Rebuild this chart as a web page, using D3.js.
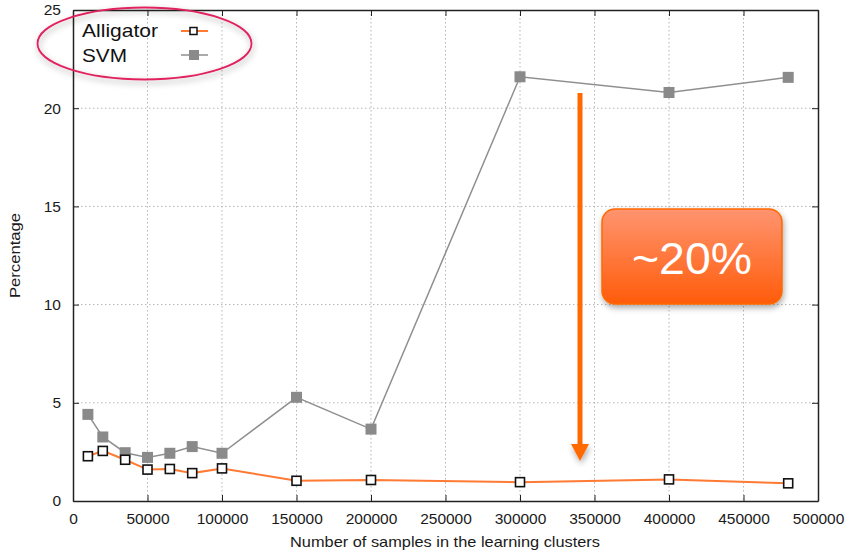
<!DOCTYPE html>
<html>
<head>
<meta charset="utf-8">
<script src="https://cdn.jsdelivr.net/npm/d3@7"></script>
<style>
  body { margin: 0; background: #fff; }
  svg { font-family: "Liberation Sans", Arial, sans-serif; }
</style>
</head>
<body>
<svg class="chart"></svg>
<script>
var samples = [10000, 20000, 35000, 50000, 65000, 80000, 100000, 150000, 200000, 300000, 400000, 480000];
var alligator = [2.28, 2.55, 2.1, 1.6, 1.63, 1.42, 1.66, 1.03, 1.07, 0.96, 1.1, 0.9];
var svm = [4.41, 3.26, 2.46, 2.22, 2.43, 2.77, 2.43, 5.28, 3.66, 21.6, 20.8, 21.57];
var xTicks = [0, 50000, 100000, 150000, 200000, 250000, 300000, 350000, 400000, 450000, 500000];
var yTicks = [0, 5, 10, 15, 20, 25];

let W = 848, H = 552;
let pL = 73, pR = 818, pT = 10, pB = 501;

var svg = d3.select(".chart").attr("width", W).attr("height", H);

var xS = d3.scaleLinear().domain([0, 500000]).range([pL, pR]);
var yS = d3.scaleLinear().domain([0, 25]).range([pB, pT]);

var defs = svg.append("defs");
var grad = defs.append("linearGradient").attr("id", "boxg")
  .attr("x1", 0).attr("y1", 0).attr("x2", 0).attr("y2", 1);
grad.append("stop").attr("offset", "0%").attr("stop-color", "#ff9470");
grad.append("stop").attr("offset", "100%").attr("stop-color", "#ff5c0a");
var sh = defs.append("filter").attr("id", "shadow").attr("x", "-20%").attr("y", "-20%").attr("width", "150%").attr("height", "150%");
sh.append("feDropShadow").attr("dx", 1).attr("dy", 3).attr("stdDeviation", 3).attr("flood-color", "#000").attr("flood-opacity", 0.35);

// grid
svg.append("g")
   .selectAll("line")
   .data(xTicks.slice(1, -1))
   .enter().append("line")
   .attr("x1", d => xS(d)).attr("x2", d => xS(d))
   .attr("y1", pT).attr("y2", pB)
   .attr("stroke", "#b5b5b5").attr("stroke-dasharray", "1.5,2.5");

svg.append("g")
   .selectAll("line")
   .data(yTicks.slice(1, -1))
   .enter().append("line")
   .attr("x1", pL).attr("x2", pR)
   .attr("y1", d => yS(d)).attr("y2", d => yS(d))
   .attr("stroke", "#b5b5b5").attr("stroke-dasharray", "1.5,2.5");

// axes (gnuplot style: inward ticks on all sides)
var tickFmt = d => String(d);
svg.append("g")
   .attr("transform", "translate(0," + pB + ")")
   .call(d3.axisBottom(xS).tickValues(xTicks).tickFormat(tickFmt).tickSizeInner(-6).tickSizeOuter(0).tickPadding(12));
svg.append("g")
   .attr("transform", "translate(0," + pT + ")")
   .call(d3.axisTop(xS).tickValues(xTicks).tickFormat("").tickSizeInner(-6).tickSizeOuter(0));
svg.append("g")
   .attr("transform", "translate(" + pL + ",0)")
   .call(d3.axisLeft(yS).tickValues(yTicks).tickFormat(tickFmt).tickSizeInner(-6).tickSizeOuter(0).tickPadding(12));
svg.append("g")
   .attr("transform", "translate(" + pR + ",0)")
   .call(d3.axisRight(yS).tickValues(yTicks).tickFormat("").tickSizeInner(-6).tickSizeOuter(0));

svg.selectAll(".domain").attr("stroke", "#222").attr("stroke-width", 1.5);
svg.selectAll(".tick line").attr("stroke", "#222");
svg.selectAll(".tick text").attr("font-size", 15.5).attr("fill", "#1a1a1a")
   .attr("font-family", "Liberation Sans, Arial, sans-serif");

// axis labels
svg.append("text")
   .attr("x", 290).attr("y", 547)
   .attr("font-size", 14.5).attr("fill", "#1a1a1a")
   .attr("textLength", 310).attr("lengthAdjust", "spacingAndGlyphs")
   .text("Number of samples in the learning clusters");
svg.append("text")
   .attr("transform", "translate(20,298) rotate(-90)")
   .attr("font-size", 14.5).attr("fill", "#1a1a1a")
   .attr("textLength", 85).attr("lengthAdjust", "spacingAndGlyphs")
   .text("Percentage");

// lines
var line = d3.line().x((d, i) => xS(samples[i])).y(d => yS(d));

svg.append("path").datum(svm)
   .attr("fill", "none").attr("stroke", "#8f8f8f").attr("stroke-width", 1.5)
   .attr("d", line);
svg.selectAll(".svm").data(svm).enter().append("rect")
   .attr("class", "svm")
   .attr("x", (d, i) => xS(samples[i]) - 5.5).attr("y", d => yS(d) - 5.5)
   .attr("width", 11).attr("height", 11)
   .attr("fill", "#8a8a8a");

svg.append("path").datum(alligator)
   .attr("fill", "none").attr("stroke", "#ff7a33").attr("stroke-width", 2)
   .attr("d", line);
svg.selectAll(".alg").data(alligator).enter().append("rect")
   .attr("class", "alg")
   .attr("x", (d, i) => xS(samples[i]) - 4.5).attr("y", d => yS(d) - 4.5)
   .attr("width", 9).attr("height", 9)
   .attr("fill", "#fff").attr("stroke", "#111").attr("stroke-width", 1.6);

// legend
var legend = svg.append("g");
legend.append("text").attr("x", 82).attr("y", 37).attr("font-size", 18.5).attr("fill", "#111")
      .attr("textLength", 76).attr("lengthAdjust", "spacingAndGlyphs").text("Alligator");
legend.append("text").attr("x", 82).attr("y", 62).attr("font-size", 18.5).attr("fill", "#111")
      .attr("textLength", 45).attr("lengthAdjust", "spacingAndGlyphs").text("SVM");
legend.append("line").attr("x1", 181).attr("x2", 208).attr("y1", 31).attr("y2", 31)
      .attr("stroke", "#ff7a33").attr("stroke-width", 2);
legend.append("rect").attr("x", 190).attr("y", 27.5).attr("width", 7).attr("height", 7)
      .attr("fill", "#fff").attr("stroke", "#111").attr("stroke-width", 1.5);
legend.append("line").attr("x1", 181).attr("x2", 208).attr("y1", 55).attr("y2", 55)
      .attr("stroke", "#8f8f8f").attr("stroke-width", 1.5);
legend.append("rect").attr("x", 189).attr("y", 50).attr("width", 10).attr("height", 10)
      .attr("fill", "#8a8a8a");

// ellipse around legend
svg.append("ellipse")
   .attr("cx", 144.5).attr("cy", 43.5).attr("rx", 107).attr("ry", 36)
   .attr("fill", "none").attr("stroke", "#e0245e").attr("stroke-width", 1.8)
   .attr("filter", "url(#shadow)");

// arrow
svg.append("line")
   .attr("x1", 580).attr("x2", 580).attr("y1", 93).attr("y2", 446)
   .attr("stroke", "#ff6a00").attr("stroke-width", 5);
svg.append("path")
   .attr("d", "M571,444 L589,444 L580,461 Z")
   .attr("fill", "#ff6a00").attr("filter", "url(#shadow)");

// callout box
svg.append("rect")
   .attr("x", 602).attr("y", 209).attr("width", 180).attr("height", 95).attr("rx", 13)
   .attr("fill", "url(#boxg)").attr("stroke", "#ff6a00").attr("stroke-width", 1.5)
   .attr("filter", "url(#shadow)");
svg.append("text")
   .attr("x", 632).attr("y", 274)
   .attr("font-size", 45).attr("fill", "#fff")
   .attr("textLength", 120).attr("lengthAdjust", "spacingAndGlyphs")
   .text("~20%");
</script>
</body>
</html>
